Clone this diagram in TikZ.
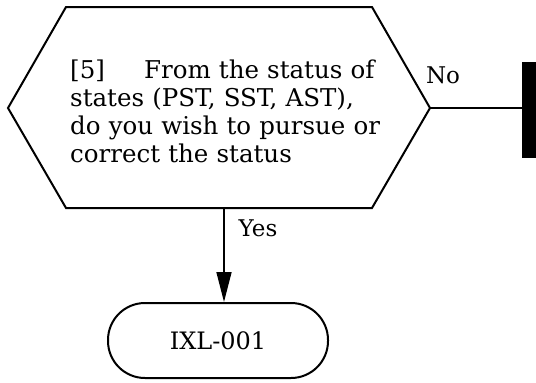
\documentclass[tikz,border=0pt]{standalone}
\usepackage{fontspec}
\setmainfont{DejaVu Serif}
\usetikzlibrary{arrows.meta,shapes.misc}

\tikzset{
  flowline/.style={line width=1.6pt},
  shapeline/.style={line width=2pt},
  terminal/.style={draw, shapeline, rounded corners=37pt,
    minimum width=220pt, minimum height=75pt, inner sep=0pt,
    font=\fontsize{24}{28}\selectfont},
  decisiontext/.style={inner sep=0pt, align=left, text width=330pt,
    font=\fontsize{24.5}{28}\selectfont},
  edgelabel/.style={inner sep=0pt, font=\fontsize{23}{26}\selectfont},
  stopbar/.style={fill=black, inner sep=0pt, minimum width=14pt, minimum height=96pt}
}

\begin{document}
\begin{tikzpicture}[x=1pt,y=-1pt]
  \useasboundingbox (0,0) rectangle (536,383);

  % decision hexagon
  \coordinate (hl) at (8,108);
  \coordinate (htl) at (66,7);
  \coordinate (htr) at (372,7);
  \coordinate (hr) at (430,108);
  \coordinate (hbr) at (372,208);
  \coordinate (hbl) at (66,208);
  \coordinate (hb) at (224,208);
  \draw[shapeline, line join=miter] (hl) -- (htl) -- (htr) -- (hr) -- (hbr) -- (hbl) -- cycle;
  \node[decisiontext, anchor=west] (question) at (70,111)
    {[5]\hspace*{1.6em}From the status of\\
     states (PST, SST, AST),\\
     do you wish to pursue or\\
     correct the status};

  % stop bar on the "No" branch
  \node[stopbar] (bar) at (529,110) {};
  \draw[flowline] (hr) -- (bar.west |- hr);
  \node[edgelabel] (nolabel) at (443,75) {No};

  % "Yes" branch to the terminal
  \node[terminal] (term) at (218,340.5) {IXL-001};
  \draw[flowline, -{Triangle[length=30pt,width=15pt]}] (hb) -- (hb |- term.north);
  \node[edgelabel] (yeslabel) at (258,228) {Yes};
\end{tikzpicture}
\end{document}
